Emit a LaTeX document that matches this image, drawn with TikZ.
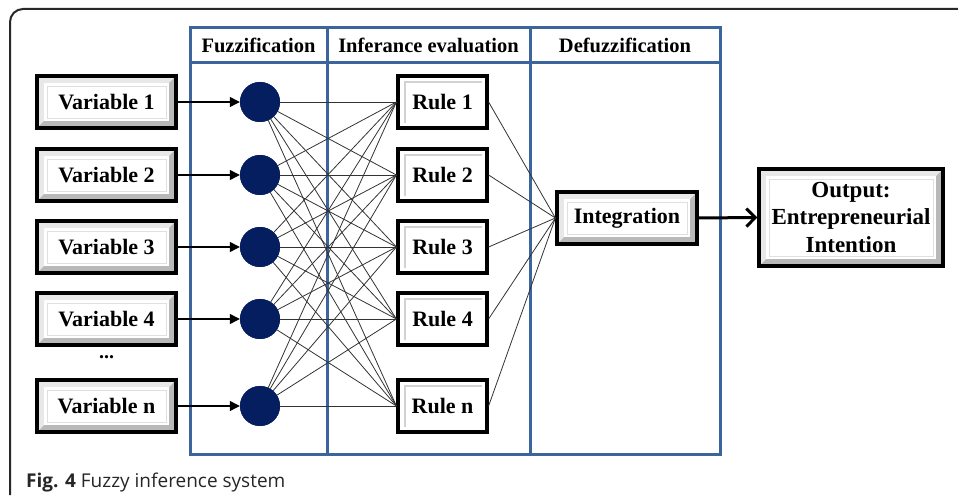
\documentclass[tikz,border=0pt]{standalone}
\usepackage{fontspec}
\setmainfont{Liberation Serif}
\newfontfamily\capfont{Open Sans}
\usetikzlibrary{arrows.meta,calc}
\definecolor{tblue}{RGB}{61,101,157}
\definecolor{navy}{RGB}{5,30,95}
\definecolor{frame}{RGB}{40,40,40}
\tikzset{
  bevel/.style={draw=black, line width=3.2pt, fill=gray!55, minimum height=52pt, inner sep=0pt,
    font=\bfseries\fontsize{22}{27.5}\selectfont, align=center,
    path picture={
      \coordinate (pA) at (path picture bounding box.south west);
      \coordinate (pB) at (path picture bounding box.north east);
      \fill[gray!18] (pA) -- (pA|-pB) -- (pB) -- ($(pB)+(-7,-7)$) -- ($(pA|-pB)+(7,-7)$) -- ($(pA)+(7,7)$) -- cycle;
      \fill[white] ($(pA)+(7,7)$) rectangle ($(pB)+(-7,-7)$);
      \draw[gray!25, line width=0.8pt] ($(pA)+(10,10)$) rectangle ($(pB)+(-10,-10)$);
    }},
  rulebox/.style={draw=black, line width=3.2pt, fill=white, minimum height=52pt, minimum width=89pt, inner sep=0pt,
    font=\bfseries\fontsize{22}{24}\selectfont,
    path picture={
      \coordinate (pA) at (path picture bounding box.south west);
      \coordinate (pB) at (path picture bounding box.north east);
      \draw[gray!35, line width=1.2pt] ($(pA)+(7,5)$) -- ($(pA|-pB)+(7,-6)$) -- ($(pB)+(-5,-6)$);
    }},
  fuzz/.style={circle, fill=navy, minimum size=40pt, inner sep=0pt},
  inarrow/.style={draw=black, line width=1.2pt, -{Triangle[length=10pt,width=10pt]}},
  thin/.style={draw=black!80, line width=0.8pt},
  headtext/.style={font=\bfseries\fontsize{20.5}{22}\selectfont},
  tableline/.style={draw=tblue, line width=3pt},
}
\begin{document}
\begin{tikzpicture}[x=1pt,y=1pt]
\useasboundingbox (0,0) rectangle (958,498);
% outer frame
\draw[frame, line width=2pt, rounded corners=13pt] (10,3) -- (10,489) -- (962,489);
% table
\draw[tableline] (190,44) rectangle (720,470);
\draw[tableline] (190,435) -- (720,435);
\draw[tableline] (327,44) -- (327,470);
\draw[tableline] (530,44) -- (530,470);
\node[headtext] (h1) at (258.5,453) {Fuzzification};
\node[headtext] (h2) at (428.5,453) {Inferance evaluation};
\node[headtext] (h3) at (625,453) {Defuzzification};
% variables
\node[bevel, minimum width=139pt] (v1) at (106.5,396) {Variable 1};
\node[bevel, minimum width=139pt] (v2) at (106.5,323) {Variable 2};
\node[bevel, minimum width=139pt] (v3) at (106.5,251) {Variable 3};
\node[bevel, minimum width=139pt] (v4) at (106.5,179) {Variable 4};
\node[bevel, minimum width=139pt] (v5) at (106.5,92) {Variable n};
\node[font=\bfseries\fontsize{20}{22}\selectfont] (dots) at (106.5,141) {...};
% circles
\foreach \i/\yy in {1/396,2/323,3/251,4/179,5/92}{
  \node[fuzz] (c\i) at (260,\yy) {};
}
% rules
\node[rulebox] (r1) at (442.5,396) {Rule 1};
\node[rulebox] (r2) at (442.5,323) {Rule 2};
\node[rulebox] (r3) at (442.5,251) {Rule 3};
\node[rulebox] (r4) at (442.5,179) {Rule 4};
\node[rulebox] (r5) at (442.5,92) {Rule n};
% integration and output
\node[bevel, minimum width=140pt] (int) at (627,280) {Integration};
\node[bevel, minimum width=184pt, minimum height=97pt, font=\bfseries\fontsize{23}{27.5}\selectfont] (out) at (851,280.5) {Output:\\Entrepreneurial\\Intention};
% input arrows
\foreach \i in {1,...,5}{
  \draw[inarrow] (v\i.east) -- (c\i.west);
}
% full connections
\foreach \i in {1,...,5}{
  \foreach \j in {1,...,5}{
    \draw[thin] (c\i.center) -- (r\j.west);
  }
  \draw[thin] (r\i.east) -- (int.west);
}
\foreach \i in {1,...,5}{
  \node[fuzz] at (c\i) {};
}
\draw[line width=3pt, -{Straight Barb[length=9pt,width=18pt]}] (int.east) -- (out.west);
% caption
\node[anchor=base west, font=\capfont\fontsize{19}{22}\selectfont, text=black!85, inner sep=0pt] (cap) at (26,11) {\textbf{Fig. 4} Fuzzy inference system};
\end{tikzpicture}
\end{document}
